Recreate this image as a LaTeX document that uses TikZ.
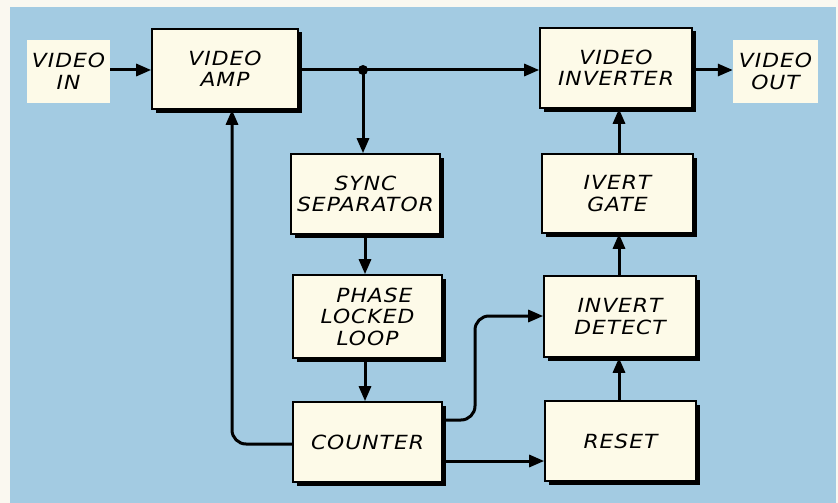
\documentclass[tikz,border=0pt]{standalone}
\usepackage{fontspec}
\newfontfamily\hand[FakeStretch=1.12,LetterSpace=5]{DejaVu Sans}
\usetikzlibrary{arrows.meta,shadows}
\definecolor{bgblue}{RGB}{163,203,226}
\definecolor{paper}{RGB}{250,248,240}
\definecolor{cream}{RGB}{253,250,232}
\tikzset{
  blk/.style={draw=black, line width=1.6pt, fill=cream, inner sep=0pt, align=center,
    font=\hand\itshape\fontsize{19.5}{21.5}\selectfont,
    drop shadow={shadow xshift=3.5pt, shadow yshift=-3.5pt, shadow scale=1, opacity=1, fill=black}},
  lbl/.style={fill=cream, inner sep=0pt, align=center,
    font=\hand\itshape\fontsize{19.5}{21.5}\selectfont},
  conn/.style={line width=3pt, line join=round},
  arr/.style={conn, -{Triangle[length=15pt,width=12pt]}}
}
\begin{document}
\begin{tikzpicture}[x=1pt,y=-1pt]
\useasboundingbox (0,0) rectangle (838,503);
\fill[paper] (0,0) rectangle (838,503);
\fill[bgblue] (10,7) rectangle (836,503);
% nodes
\node[lbl, minimum width=83pt, minimum height=63pt] (vin) at (68.5,71.5) {VIDEO\\IN};
\node[blk, minimum width=146pt, minimum height=80pt] (amp) at (225,69) {VIDEO\\AMP};
\node[blk, minimum width=149pt, minimum height=80pt] (sync) at (365.5,194) {SYNC\\SEPARATOR};
\node[blk, minimum width=149pt, minimum height=83pt] (pll) at (367.5,316.5) {\hspace*{14pt}PHASE\\LOCKED\\LOOP};
\node[blk, minimum width=149pt, minimum height=80pt] (cnt) at (367.5,442) {COUNTER};
\node[blk, minimum width=152pt, minimum height=80pt] (inv) at (616,68) {VIDEO\\INVERTER};
\node[lbl, minimum width=85pt, minimum height=63pt] (vout) at (775.5,71.5) {VIDEO\\OUT};
\node[blk, minimum width=151pt, minimum height=79pt] (gate) at (617.5,193.5) {IVERT\\GATE};
\node[blk, minimum width=152pt, minimum height=81pt] (det) at (620,316.5) {INVERT\\DETECT};
\node[blk, minimum width=151pt, minimum height=80pt] (rst) at (620.5,441) {RESET};
% helper coordinates
\coordinate (j) at (363,70);
\coordinate (vx) at (365,0);
\coordinate (fb) at (232,444);
\coordinate (o1) at (0,420);
\coordinate (o2) at (0,461);
\coordinate (bend) at (475,316);
\coordinate (vx2) at (619,0);
% connectors
\draw[arr] (vin.east |- j) -- (amp.west |- j);
\draw[conn] (amp.east |- j) -- (j);
\draw[arr] (j) -- (inv.west |- j);
\fill (j) circle (5pt);
\draw[arr] (j) -- (j |- sync.north);
\draw[arr] (vx |- sync.south) -- (vx |- pll.north);
\draw[arr] (vx |- pll.south) -- (vx |- cnt.north);
\draw[arr, rounded corners=14pt] (cnt.west |- fb) -| (fb |- amp.south);
\draw[arr, rounded corners=14pt] (cnt.east |- o1) -| (bend) -- (det.west |- bend);
\draw[arr] (cnt.east |- o2) -- (rst.west |- o2);
\draw[arr] (vx2 |- rst.north) -- (vx2 |- det.south);
\draw[arr] (vx2 |- det.north) -- (vx2 |- gate.south);
\draw[arr] (vx2 |- gate.north) -- (vx2 |- inv.south);
\draw[arr] (inv.east |- j) -- (vout.west |- j);
\end{tikzpicture}
\end{document}
